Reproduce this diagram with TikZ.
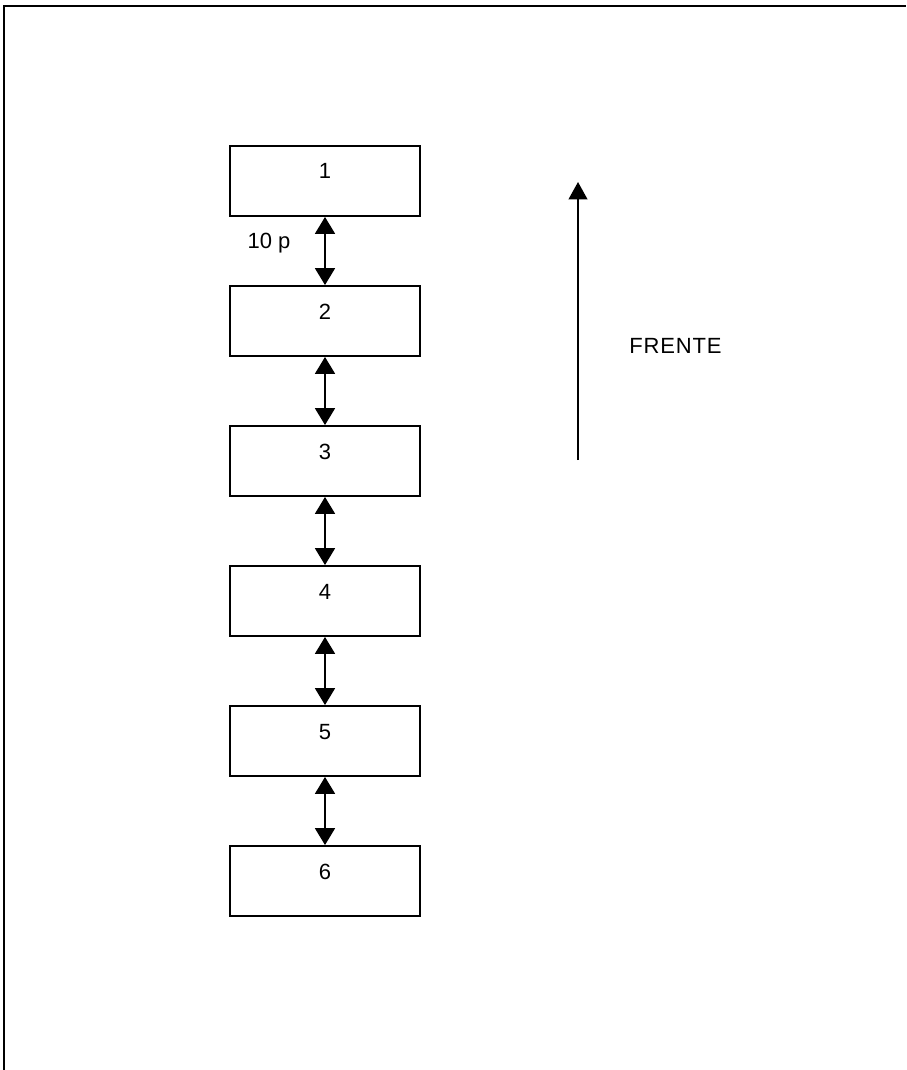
\documentclass[tikz,border=0pt]{standalone}
\usepackage{fontspec}
\setmainfont{Liberation Sans}
\usepackage{tikz}
\usetikzlibrary{positioning,arrows.meta}
\definecolor{fmblack}{HTML}{000000}

\begin{document}
\begin{tikzpicture}[x=0.75pt,y=-0.75pt,font=\fontsize{16.5}{20}\selectfont,
    posbox/.style={draw=fmblack,line width=1.4pt,inner sep=0pt,
      minimum width=142.5pt,text height=24.75pt,text depth=27.75pt},
    gaparrow/.style={fmblack,line width=1.4pt,
      {Triangle[length=12.75pt,width=15pt]}-{Triangle[length=12.75pt,width=15pt]}},
    frontarrow/.style={fmblack,line width=1.4pt,-{Triangle[length=13pt,width=14pt]}}]
  \useasboundingbox (0,0) rectangle (906,1070);
  % outer frame, only top and left edges show
  \draw[fmblack,line width=1.5pt] (4,1070) -- (4,6) -- (906,6);
  % positions 1..6
  \foreach \i in {1,...,6} {
    \node[posbox] (b\i) at (325,{181+140*(\i-1)}) {\i};
  }
  \foreach \i [count=\j from 2] in {1,...,5}
    \draw[gaparrow] (b\i) -- (b\j);
  \node[anchor=base] (gaplabel) at (269,248) {10 p};
  % direction
  \coordinate (fronttail) at (578,460);
  \coordinate (fronttip) at (578,182);
  \draw[frontarrow] (fronttail) -- (fronttip);
  \node[anchor=base west,inner sep=0pt,font=\fontsize{16.5}{20}\selectfont\addfontfeature{LetterSpace=4}]
    (frontlabel) at (629,353) {FRENTE};
\end{tikzpicture}
\end{document}
